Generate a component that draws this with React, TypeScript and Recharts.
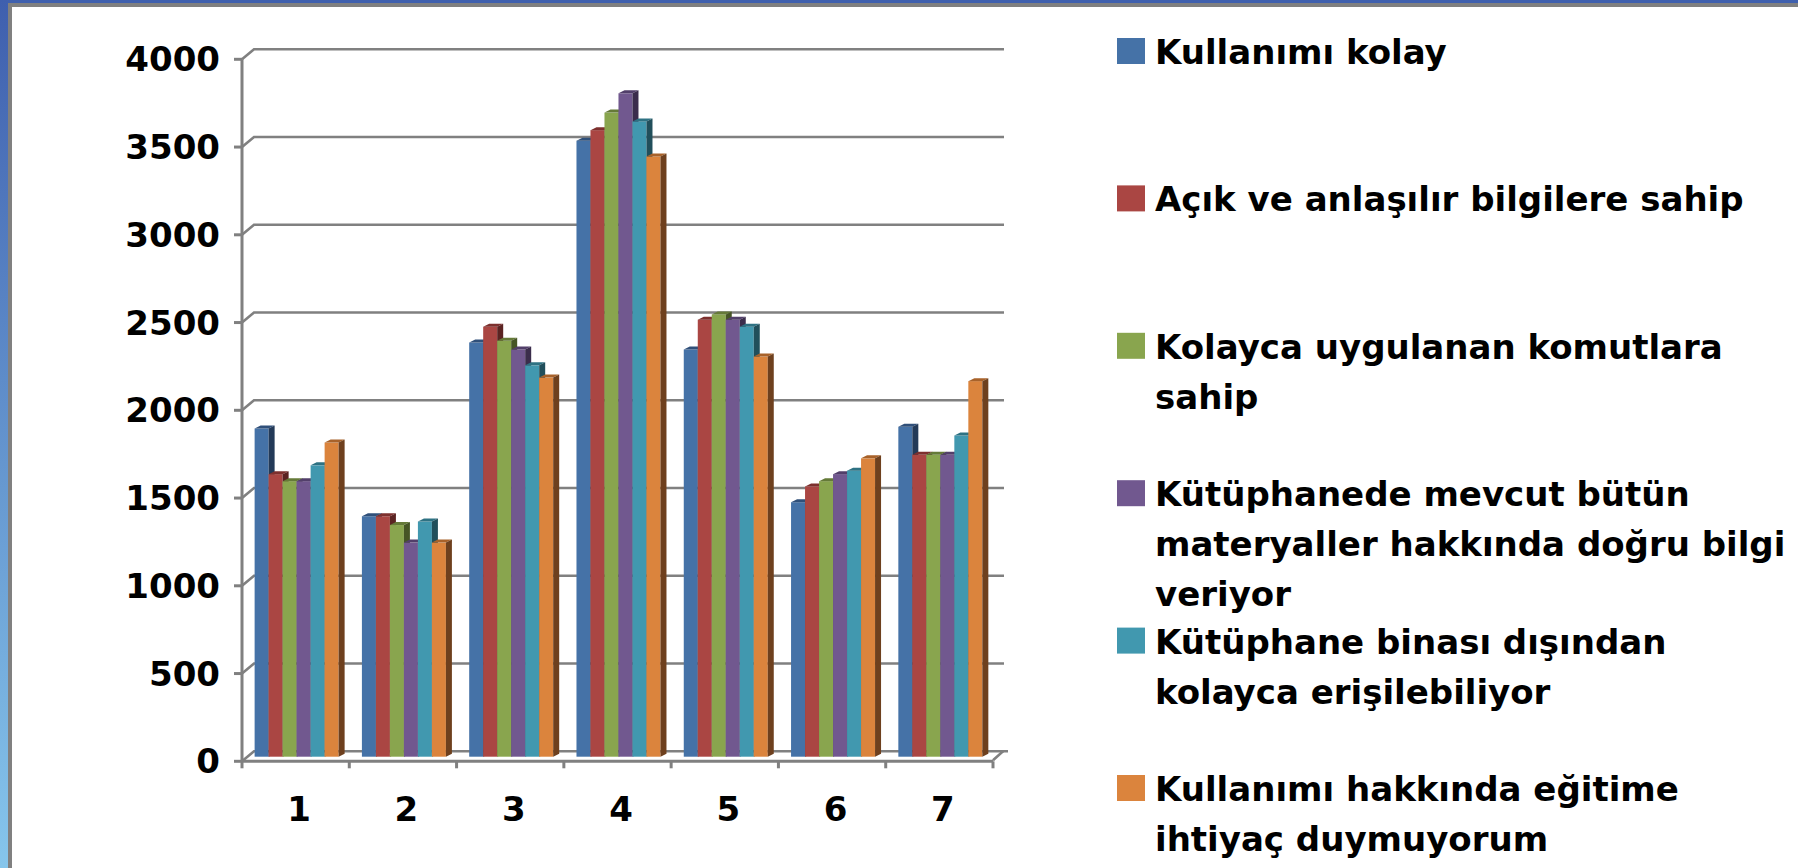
import React from 'react';
import { BarChart, Bar, XAxis, YAxis, CartesianGrid, Legend } from 'recharts';

// ---- data ----
const CATEGORIES = ['1', '2', '3', '4', '5', '6', '7'];
const KULLANIMI_KOLAY = [1870, 1370, 2360, 3510, 2320, 1450, 1880];
const ACIK_BILGI = [1610, 1370, 2450, 3570, 2490, 1540, 1720];
const KOLAY_KOMUT = [1570, 1320, 2370, 3670, 2520, 1570, 1720];
const DOGRU_BILGI = [1570, 1220, 2320, 3780, 2490, 1610, 1720];
const DISARDAN_ERISIM = [1660, 1340, 2230, 3620, 2450, 1630, 1830];
const EGITIM_GEREKMIYOR = [1790, 1220, 2160, 3420, 2280, 1700, 2140];

const SERIES_NAMES = [
  'Kullanımı kolay',
  'Açık ve anlaşılır bilgilere sahip',
  'Kolayca uygulanan komutlara sahip',
  'Kütüphanede mevcut bütün materyaller hakkında doğru bilgi veriyor',
  'Kütüphane binası dışından kolayca erişilebiliyor',
  'Kullanımı hakkında eğitime ihtiyaç duymuyorum',
];
const LEGEND_LINES = [
  ['Kullanımı kolay'],
  ['Açık ve anlaşılır bilgilere sahip'],
  ['Kolayca uygulanan komutlara', 'sahip'],
  ['Kütüphanede mevcut bütün', 'materyaller hakkında doğru bilgi', 'veriyor'],
  ['Kütüphane binası dışından', 'kolayca erişilebiliyor'],
  ['Kullanımı hakkında eğitime', 'ihtiyaç duymuyorum'],
];
const SERIES_VALUES = [
  KULLANIMI_KOLAY,
  ACIK_BILGI,
  KOLAY_KOMUT,
  DOGRU_BILGI,
  DISARDAN_ERISIM,
  EGITIM_GEREKMIYOR,
];
const Y_TICKS = [0, 500, 1000, 1500, 2000, 2500, 3000, 3500, 4000];

// ---- styles ----
const FRONT = ['#4572A7', '#AA4643', '#89A54E', '#71588F', '#4198AF', '#DB843D'];
const TOP = ['#30507A', '#7D302E', '#657A38', '#523F6A', '#2E7283', '#A8622A'];
const SIDE = ['#233A58', '#5B2322', '#465525', '#3B2D4C', '#214F5B', '#6E401E'];
const FONT = "'DejaVu Sans', Verdana, sans-serif";
const GRAY = '#808080';

const W = 1798;
const H = 868;
const PLOT_LEFT = 242;
const PLOT_RIGHT = 993;
const PLOT_TOP = 59.3;
const PLOT_BOTTOM = 761.3;
const Y_AXIS_W = 100;
const X_AXIS_H = 60;
const BAND = (PLOT_RIGHT - PLOT_LEFT) / CATEGORIES.length;

const DX = 6;
const DY = 3;
const SHIFT_X = 2;
const SHIFT_Y = 4.6;

const data = CATEGORIES.map((c, i) => {
  const row: any = { cat: c };
  SERIES_VALUES.forEach((vals, s) => {
    row['s' + s] = vals[i];
  });
  return row;
});

const make3DShape = (si: number) => (props: any) => {
  const { x, y, width, height } = props;
  if (x == null || y == null || !width || height == null) return <g />;
  const bx = x + SHIFT_X;
  const by = y - SHIFT_Y;
  return (
    <g>
      <rect x={bx} y={by} width={width} height={height} fill={FRONT[si]} />
      <polygon
        points={`${bx},${by} ${bx + DX},${by - DY} ${bx + width + DX},${by - DY} ${bx + width},${by}`}
        fill={TOP[si]}
      />
      <polygon
        points={`${bx + width},${by} ${bx + width + DX},${by - DY} ${bx + width + DX},${by + height - DY} ${bx + width},${by + height}`}
        fill={SIDE[si]}
      />
    </g>
  );
};

const gridLine = (props: any) => {
  const { x1, x2, y1 } = props;
  return (
    <polyline
      key={props.key ?? `g-${y1}`}
      points={`${x1},${y1} ${x1 + 12},${y1 - 10} ${x2 + 11},${y1 - 10}`}
      fill="none"
      stroke={GRAY}
      strokeWidth={2.6}
    />
  );
};

const renderCatTick = (props: any) => {
  const { x, y, payload, index } = props;
  const left = x - BAND / 2;
  const right = x + BAND / 2;
  const isLast = index === CATEGORIES.length - 1;
  return (
    <g key={`t-${index}`}>
      <line x1={left} y1={y} x2={left} y2={y + 7} stroke={GRAY} strokeWidth={3} />
      {isLast && (
        <>
          <line x1={right} y1={y} x2={right} y2={y + 7} stroke={GRAY} strokeWidth={3} />
          <polyline
            points={`${right},${y - 1} ${right + 10},${y - 10} ${right + 15},${y - 10}`}
            fill="none"
            stroke={GRAY}
            strokeWidth={2.6}
          />
        </>
      )}
      <text
        x={x + 3.5}
        y={y + 60}
        textAnchor="middle"
        fontFamily={FONT}
        fontWeight={700}
        fontSize={34}
        fill="#000"
      >
        {payload.value}
      </text>
    </g>
  );
};

const renderLegend = () => (
  <svg width={698} height={868} style={{ display: 'block', overflow: 'visible' }}>
    {SERIES_NAMES.map((name, i) => {
      const base = 64 + i * 147.4;
      return (
        <g key={name}>
          <rect x={17} y={base - 26} width={28} height={26} fill={FRONT[i]} />
          {LEGEND_LINES[i].map((ln, j) => (
            <text
              key={j}
              x={55}
              y={base + j * 50}
              fontFamily={FONT}
              fontWeight={700}
              fontSize={34}
              fill="#000"
            >
              {ln}
            </text>
          ))}
        </g>
      );
    })}
  </svg>
);

export default function App() {
  return (
    <div
      style={{
        position: 'absolute',
        left: 0,
        top: 0,
        width: W,
        height: H,
        background: '#ffffff',
        overflow: 'hidden',
      }}
    >
      <div style={{ position: 'absolute', left: 0, top: 0 }}>
        <BarChart
          width={W}
          height={H}
          data={data}
          margin={{
            top: PLOT_TOP,
            right: W - PLOT_RIGHT,
            bottom: H - PLOT_BOTTOM - X_AXIS_H,
            left: PLOT_LEFT - Y_AXIS_W,
          }}
          barGap={0}
          barCategoryGap="9.9%"
        >
          <CartesianGrid vertical={false} horizontal={gridLine} />
          <XAxis
            dataKey="cat"
            interval={0}
            height={X_AXIS_H}
            tickLine={false}
            tickSize={0}
            tickMargin={0}
            tick={renderCatTick}
            axisLine={{ stroke: GRAY, strokeWidth: 3 }}
          />
          <YAxis
            width={Y_AXIS_W}
            domain={[0, 4000]}
            ticks={Y_TICKS}
            interval={0}
            tickSize={8}
            tickMargin={14}
            tickLine={{ stroke: GRAY, strokeWidth: 3 }}
            axisLine={{ stroke: GRAY, strokeWidth: 3 }}
            tick={{ fontSize: 34, fontWeight: 700, fill: '#000', fontFamily: FONT }}
          />
          <Legend
            layout="vertical"
            align="center"
            verticalAlign="middle"
            content={renderLegend}
            wrapperStyle={{ left: 1100, top: 0, width: 698, height: 868 }}
          />
          {SERIES_NAMES.map((name, i) => (
            <Bar
              key={name}
              dataKey={'s' + i}
              name={name}
              fill={FRONT[i]}
              isAnimationActive={false}
              shape={make3DShape(i)}
            />
          ))}
        </BarChart>
      </div>
      {/* frame */}
      <div style={{ position: 'absolute', left: 0, top: 0, width: W, height: 3, background: '#3F60AE' }} />
      <div
        style={{
          position: 'absolute',
          left: 0,
          top: 0,
          width: 8,
          height: H,
          background: 'linear-gradient(#3F5FAE, #86C6EC)',
        }}
      />
      <div style={{ position: 'absolute', left: 8, top: 3, width: W - 8, height: 4, background: GRAY }} />
      <div style={{ position: 'absolute', left: 8, top: 3, width: 4, height: H - 3, background: GRAY }} />
    </div>
  );
}
